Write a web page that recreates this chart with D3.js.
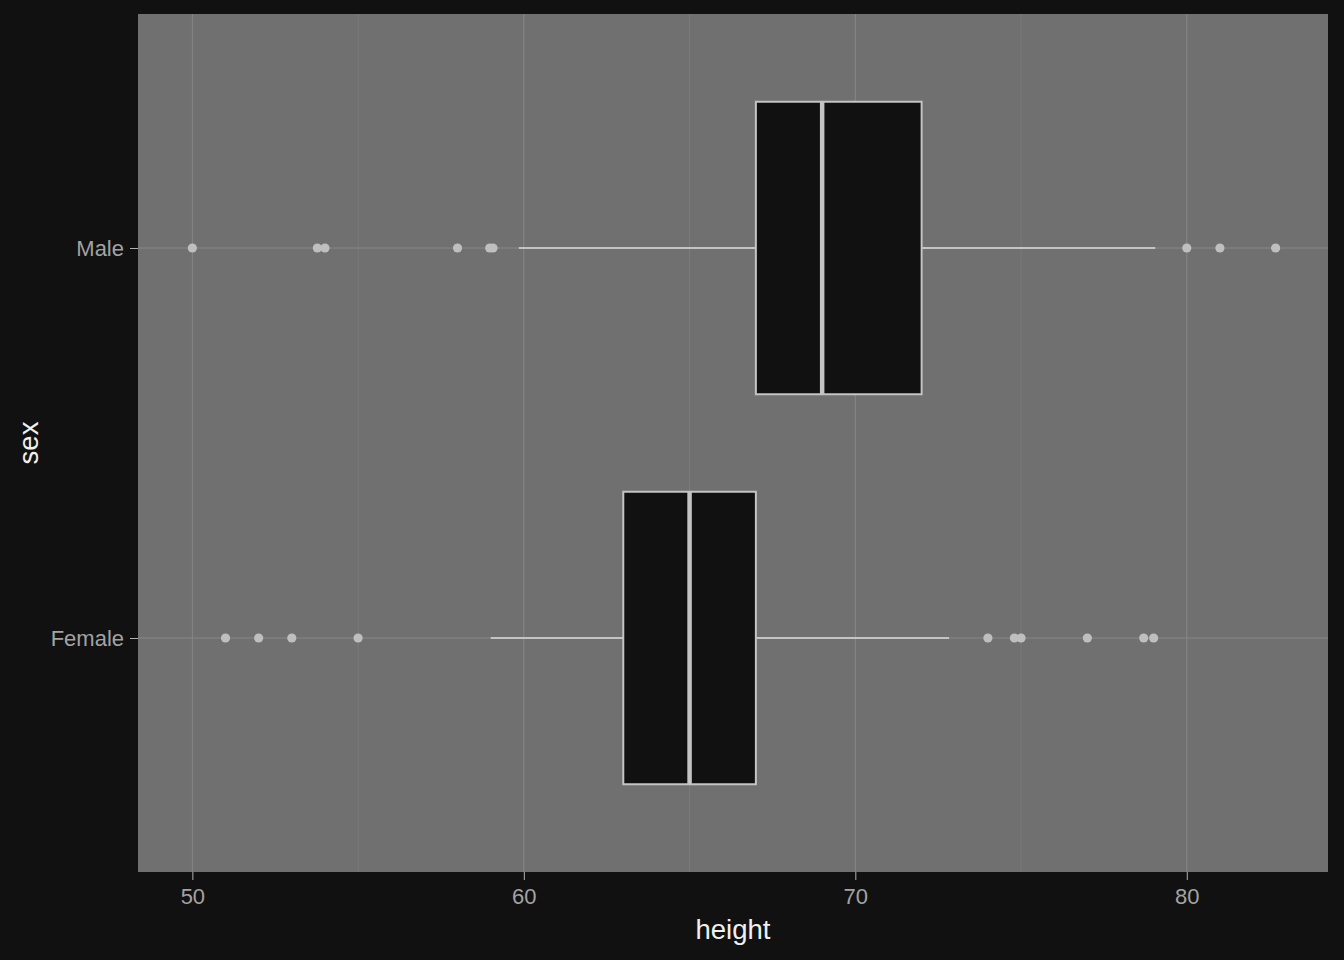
<!DOCTYPE html>
<html><head><meta charset="utf-8">
<script src="https://cdn.jsdelivr.net/npm/d3@7"></script>
<style>
html,body{margin:0;padding:0;background:#111111;}
svg{display:block;}
text{font-family:"Liberation Sans",Arial,sans-serif;}
</style></head>
<body>
<svg id="chart" width="1344" height="960"></svg>
<script>
// ---- data ----
const categories = ["Male", "Female"];
const q1 = [67, 63];
const medians = [69, 65];
const q3 = [72, 67];
const whiskerLow = [59.85, 59];
const whiskerHigh = [79.05, 72.83];
const outliersMale = [50, 53.77, 54, 58, 58.97, 59.07, 80, 81, 82.68];
const outliersFemale = [51, 52, 53, 55, 74, 74.8, 75, 77, 78.7, 79];
const outliers = [outliersMale, outliersFemale];
const xTicks = [50, 60, 70, 80];
const xMinorTicks = [55, 65, 75];
const xDomain = [48.36, 84.26];

// ---- layout ----
const panel = {left: 138, right: 1328, top: 14, bottom: 872};
const svg = d3.select("#chart");
svg.append("rect").attr("width", 1344).attr("height", 960).attr("fill", "#111111");

const x = d3.scaleLinear().domain(xDomain).range([panel.left, panel.right]);
const y = d3.scalePoint().domain(categories).range([panel.top, panel.bottom]).padding(0.6);
const boxHalf = y.step() * 0.375;

// panel background
svg.append("rect")
  .attr("x", panel.left).attr("y", panel.top)
  .attr("width", panel.right - panel.left).attr("height", panel.bottom - panel.top)
  .attr("fill", "#707070");

const grid = svg.append("g");
grid.selectAll("line.minor").data(xMinorTicks).join("line")
  .attr("x1", d => x(d)).attr("x2", d => x(d))
  .attr("y1", panel.top).attr("y2", panel.bottom)
  .attr("stroke", "#7b7b7b").attr("stroke-width", 1);
grid.selectAll("line.majorx").data(xTicks).join("line")
  .attr("x1", d => x(d)).attr("x2", d => x(d))
  .attr("y1", panel.top).attr("y2", panel.bottom)
  .attr("stroke", "#878787").attr("stroke-width", 1);
grid.selectAll("line.majory").data(categories).join("line")
  .attr("x1", panel.left).attr("x2", panel.right)
  .attr("y1", d => y(d)).attr("y2", d => y(d))
  .attr("stroke", "#878787").attr("stroke-width", 1);

// boxplots
const boxColor = "#c4c4c4";
const g = svg.append("g");
categories.forEach((c, i) => {
  const cy = y(c);
  g.append("line").attr("x1", x(whiskerLow[i])).attr("x2", x(q1[i]))
    .attr("y1", cy).attr("y2", cy).attr("stroke", boxColor).attr("stroke-width", 2);
  g.append("line").attr("x1", x(q3[i])).attr("x2", x(whiskerHigh[i]))
    .attr("y1", cy).attr("y2", cy).attr("stroke", boxColor).attr("stroke-width", 2);
  g.append("rect").attr("x", x(q1[i])).attr("y", cy - boxHalf)
    .attr("width", x(q3[i]) - x(q1[i])).attr("height", 2 * boxHalf)
    .attr("fill", "#111111").attr("stroke", boxColor).attr("stroke-width", 2);
  g.append("line").attr("x1", x(medians[i])).attr("x2", x(medians[i]))
    .attr("y1", cy - boxHalf).attr("y2", cy + boxHalf)
    .attr("stroke", boxColor).attr("stroke-width", 4.5);
  g.selectAll(null).data(outliers[i]).join("circle")
    .attr("cx", d => x(d)).attr("cy", cy).attr("r", 4.6)
    .attr("fill", "#bfbfbf");
});

// x axis
const xAxis = svg.append("g").attr("transform", `translate(0,${panel.bottom})`)
  .call(d3.axisBottom(x).tickValues(xTicks).tickSize(8).tickPadding(8).tickFormat(d3.format("d")));
xAxis.select(".domain").remove();
xAxis.selectAll(".tick line").attr("stroke", "#b0b0b0").attr("stroke-width", 1);
xAxis.selectAll(".tick text").attr("fill", "#a3a3a3").attr("font-size", 22)
  .attr("font-family", "Liberation Sans, Arial, sans-serif");

// y axis
const yAxis = svg.append("g").attr("transform", `translate(${panel.left},0)`)
  .call(d3.axisLeft(y).tickSize(8).tickPadding(6));
yAxis.select(".domain").remove();
yAxis.selectAll(".tick line").attr("stroke", "#b0b0b0").attr("stroke-width", 1);
yAxis.selectAll(".tick text").attr("fill", "#a3a3a3").attr("font-size", 22)
  .attr("font-family", "Liberation Sans, Arial, sans-serif");

// axis titles
svg.append("text").attr("x", (panel.left + panel.right) / 2).attr("y", 939)
  .attr("text-anchor", "middle").attr("fill", "#f0f0f0").attr("font-size", 27.5)
  .text("height");
svg.append("text").attr("transform", `translate(38,${(panel.top + panel.bottom) / 2}) rotate(-90)`)
  .attr("text-anchor", "middle").attr("fill", "#f0f0f0").attr("font-size", 27.5)
  .text("sex");
</script>
</body></html>
